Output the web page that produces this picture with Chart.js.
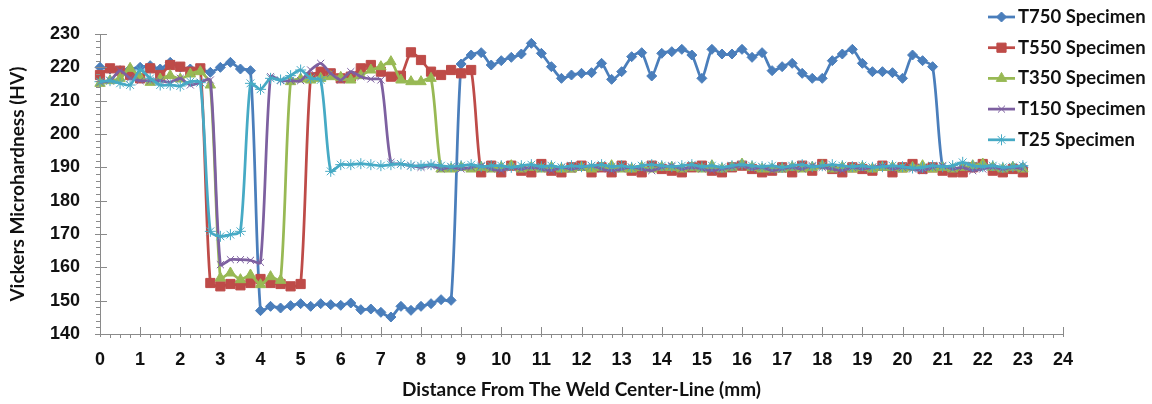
<!DOCTYPE html>
<html>
<head>
<meta charset="utf-8">
<script src="https://cdn.jsdelivr.net/npm/chart.js@4"></script>
<style>
  html, body { margin: 0; padding: 0; background: #fff; }
  #wrap { width: 1152px; height: 404px; position: relative; }
</style>
</head>
<body>
<div id="wrap"><canvas id="grafico"></canvas></div>
<script>
// distância a partir da linha de centro da solda (mm)
const distance = [
  0, 0.25, 0.5, 0.75, 1, 1.25, 1.5, 1.75, 2, 2.25, 2.5, 2.75, 3, 3.25, 3.5, 3.75,
  4, 4.25, 4.5, 4.75, 5, 5.25, 5.5, 5.75, 6, 6.25, 6.5, 6.75, 7, 7.25, 7.5, 7.75,
  8, 8.25, 8.5, 8.75, 9, 9.25, 9.5, 9.75, 10, 10.25, 10.5, 10.75, 11, 11.25, 11.5, 11.75,
  12, 12.25, 12.5, 12.75, 13, 13.25, 13.5, 13.75, 14, 14.25, 14.5, 14.75, 15, 15.25, 15.5, 15.75,
  16, 16.25, 16.5, 16.75, 17, 17.25, 17.5, 17.75, 18, 18.25, 18.5, 18.75, 19, 19.25, 19.5, 19.75,
  20, 20.25, 20.5, 20.75, 21, 21.25, 21.5, 21.75, 22, 22.25, 22.5, 22.75,
  23
];

const seriesNames = ["T750 Specimen", "T550 Specimen", "T350 Specimen", "T150 Specimen", "T25 Specimen"];

const t750 = [
  220, 219.5, 219, 219.5, 220, 220.5, 219.5, 221.5, 220, 219.5, 219.5, 218.5, 220, 221.5, 219.5, 219,
  147, 148.3, 147.8, 148.5, 149.1, 148.3, 149.1, 148.8, 148.6, 149.3, 147.3, 147.5, 146.5, 145.1, 148.3, 147.1,
  148.3, 149.1, 150.3, 150.1, 221, 223.7, 224.4, 220.7, 222, 223, 224, 227.2, 224.2, 220.2, 216.7, 217.7,
  218.2, 218.4, 221.2, 216.4, 218.7, 223.2, 224.4, 217.4, 224.2, 224.7, 225.4, 223.7, 216.7, 225.4, 224, 224,
  225.4, 223, 224.4, 219, 220.2, 221.2, 218.2, 216.7, 216.7, 222, 224, 225.4, 221.2, 218.7, 218.7, 218.4,
  216.7, 223.7, 222, 220.2, 190, 189, 189, 190, 191, 190, 189, 190,
  190
];

const t550 = [
  217.7, 219.7, 219, 217.7, 216.7, 219.7, 217.7, 220.7, 220.2, 218.7, 219.7, 155.3, 154.3, 155, 154.6, 155.3,
  156.5, 155.3, 155, 154.3, 155, 217, 218.7, 218.2, 216.7, 217.2, 219.7, 220.7, 218.7, 217.2, 217.5, 224.5,
  222.2, 218.7, 217.7, 219.2, 218.2, 219.2, 188.5, 190.5, 188.5, 190.5, 189, 188.5, 191, 189, 188.5, 190,
  190.5, 188.5, 190, 188.5, 190.5, 189, 188.5, 190.5, 189.5, 189, 188.5, 190, 190.5, 189, 188.5, 190,
  190.5, 189.5, 188.5, 189, 190, 188.5, 190.5, 189, 191, 189.5, 188.5, 190, 189.5, 189, 190.5, 188.5,
  190, 191, 189.5, 190, 189, 188.5, 188.5, 190, 191, 189, 188.5, 189.5,
  188.5
];

const t350 = [
  215.2, 216, 216.7, 219.7, 217, 215.5, 216.5, 217.5, 216.5, 218, 218.7, 214.7, 156.8, 158.3, 156.3, 157.7,
  154.8, 157.2, 156.1, 215.7, 216.5, 216.2, 216.7, 217.2, 217, 216.2, 217.5, 219.2, 220.2, 221.7, 216.2, 215.7,
  215.7, 216.7, 189.5, 189.5, 190, 189.5, 190, 189.5, 190, 190.5, 189.5, 190, 189.5, 190, 189.5, 189.5,
  190, 189.5, 190, 190.5, 189.5, 189.5, 190, 189.5, 190, 190, 189.5, 190, 189.5, 190.5, 189.5, 190,
  191, 190, 189.5, 189.5, 189.5, 190, 189.5, 190, 190.5, 189.5, 190, 189.5, 190, 189.5, 190, 190,
  189.5, 190, 190.5, 189.5, 190, 189.5, 190, 190.5, 191, 190, 189.5, 190,
  189.5
];

const t150 = [
  215.5, 216, 219, 216.7, 216, 216, 216, 215.5, 216.7, 214.7, 215.5, 216.2, 160.8, 162.3, 162.3, 162.1,
  161.5, 217.2, 216, 216, 216, 219.2, 221.2, 218.2, 216.2, 218.7, 217.2, 216.5, 216.2, 191.5, 191, 190.5,
  190, 190.5, 189.5, 190, 189.5, 190, 190.5, 189.5, 189, 190, 189.5, 190, 189.5, 189, 190, 189.5,
  190, 190.5, 189.5, 189, 189.5, 190, 189.5, 189, 190, 190.5, 189.5, 190, 189.5, 189, 189.5, 190,
  190.5, 189.5, 190, 189, 189.5, 190, 189.5, 190.5, 190, 189.5, 189, 190, 189.5, 190, 190.5, 189.5,
  190, 189.5, 189, 190, 190.5, 189.5, 190, 189, 189.5, 190, 189.5, 190,
  189.5
];

const t25 = [
  215.7, 216, 215.2, 214.7, 219.2, 216.7, 214.7, 214.7, 214.4, 215.7, 215.4, 170.8, 169.3, 169.8, 170.8, 215.2,
  213.4, 216.7, 216.2, 217.5, 219.2, 216.7, 216.2, 188.8, 190.8, 190.8, 191.1, 190.8, 190.5, 190.8, 191, 190.5,
  190.5, 190.8, 190.5, 190.2, 190.5, 190.8, 190.2, 190.5, 190.5, 190, 190.5, 190.8, 190.2, 190.5, 190, 190.5,
  190.2, 190.5, 190.8, 190.2, 190.5, 190, 190.5, 190.8, 190.5, 190.2, 190.5, 190.8, 190.2, 190.5, 190, 190.5,
  190.8, 190.5, 190.2, 190.5, 190, 190.5, 190.8, 190.2, 190.5, 190.8, 190.5, 190.2, 190.5, 190, 190.2, 190.5,
  190.2, 189.8, 190, 190.5, 190.2, 190.5, 191.5, 190.5, 190.2, 190.5, 190, 190.2,
  190.5
];

// cores no estilo Excel 2007
const cores = ["#4A7EBB", "#BE4B48", "#98B954", "#7D60A0", "#46AAC5"];
const marcadores = ["rectRot", "rect", "triangle", "crossRot", "star"];
const raios = [5, 6.5, 6, 5, 5.5];

const tituloFonte = "Lato, 'Open Sans', sans-serif";
const tickFonte = "'Liberation Sans', Arial, sans-serif";

function montarSerie(nome, valores, i) {
    return {
        label: nome,
        data: distance.map((d, k) => ({ x: d, y: valores[k] })),
        borderColor: cores[i],
        backgroundColor: cores[i],
        borderWidth: 2.75,
        pointStyle: marcadores[i],
        pointRadius: raios[i],
        pointBorderWidth: 1,
        pointBackgroundColor: cores[i],
        pointBorderColor: cores[i],
        tension: 0.25,
        clip: false,
        order: 5 - i
    };
}

// marcas principais e secundárias dos eixos, como no Excel
const marcasEixos = {
    id: "marcasEixos",
    afterDraw(chart) {
        const ctx = chart.ctx;
        const x = chart.scales.x, y = chart.scales.y;
        const area = chart.chartArea;
        ctx.save();
        ctx.strokeStyle = "#8a8a8a";
        ctx.lineWidth = 1;
        ctx.beginPath();
        for (let v = x.min; v <= x.max + 1e-9; v += 0.25) {
            const px = Math.round(x.getPixelForValue(v)) + 0.5;
            const major = Math.abs(v - Math.round(v)) < 1e-6;
            ctx.moveTo(px, major ? area.bottom - 7 : area.bottom);
            ctx.lineTo(px, area.bottom + (major ? 3 : 4));
        }
        for (let v = y.min; v <= y.max + 1e-9; v += 2) {
            const py = Math.round(y.getPixelForValue(v)) + 0.5;
            const major = v % 10 === 0;
            ctx.moveTo(area.left - (major ? 5 : 4), py);
            ctx.lineTo(major ? area.left + 7 : area.left, py);
        }
        ctx.stroke();
        ctx.restore();
    }
};

// legenda ao lado direito, por cima da área do gráfico
const legendaLateral = {
    id: "legendaLateral",
    afterDraw(chart) {
        const ctx = chart.ctx;
        ctx.save();
        ctx.font = "bold 18.5px " + tituloFonte;
        ctx.textBaseline = "middle";
        ctx.textAlign = "left";
        chart.data.datasets.forEach((ds, i) => {
            const yy = 17 + i * 30.7;
            ctx.strokeStyle = ds.borderColor;
            ctx.fillStyle = ds.borderColor;
            ctx.lineWidth = ds.borderWidth;
            ctx.beginPath();
            ctx.moveTo(988, yy);
            ctx.lineTo(1015, yy);
            ctx.stroke();
            ctx.lineWidth = 1;
            Chart.helpers.drawPoint(ctx, {
                pointStyle: ds.pointStyle, radius: ds.pointRadius, rotation: 0, borderWidth: 1
            }, 1001.5, yy);
            ctx.fillStyle = "#111";
            ctx.fillText(ds.label, 1018, yy);
        });
        ctx.restore();
    }
};

let grafico = null;

function renderizarGrafico() {
    if (grafico) grafico.destroy();
    const ctx = document.getElementById("grafico").getContext("2d");
    grafico = new Chart(ctx, {
        type: "line",
        data: {
            datasets: [
                montarSerie(seriesNames[0], t750, 0),
                montarSerie(seriesNames[1], t550, 1),
                montarSerie(seriesNames[2], t350, 2),
                montarSerie(seriesNames[3], t150, 3),
                montarSerie(seriesNames[4], t25, 4)
            ]
        },
        options: {
            responsive: true,
            maintainAspectRatio: false,
            animation: false,
            events: [],
            layout: { padding: { top: 34, right: 89, left: 0, bottom: 0 } },
            plugins: {
                legend: { display: false },
                tooltip: { enabled: false }
            },
            scales: {
                x: {
                    type: "linear",
                    min: 0,
                    max: 24,
                    afterFit: (s) => { s.height = 70; },
                    grid: { display: false, drawTicks: false },
                    border: { display: true, color: "#8a8a8a", width: 1 },
                    ticks: {
                        stepSize: 1,
                        autoSkip: false,
                        maxRotation: 0,
                        padding: 15,
                        color: "#111",
                        font: { family: tickFonte, size: 18, weight: "bold" }
                    },
                    title: {
                        display: true,
                        text: "Distance From The Weld Center-Line (mm)",
                        color: "#111",
                        font: { family: tituloFonte, size: 19, weight: "bold" },
                        padding: { top: 0, bottom: 3 }
                    }
                },
                y: {
                    min: 140,
                    max: 230,
                    afterFit: (s) => { s.width = 100; },
                    grid: { display: false, drawTicks: false },
                    border: { display: true, color: "#8a8a8a", width: 1 },
                    ticks: {
                        stepSize: 10,
                        padding: 20,
                        color: "#111",
                        font: { family: tickFonte, size: 18, weight: "bold" }
                    },
                    title: {
                        display: true,
                        text: "Vickers Microhardness (HV)",
                        color: "#111",
                        font: { family: tituloFonte, size: 19, weight: "bold" },
                        padding: { top: 6, bottom: 0 }
                    }
                }
            }
        },
        plugins: [marcasEixos, legendaLateral]
    });
}

document.addEventListener("DOMContentLoaded", renderizarGrafico);
</script>
</body>
</html>
